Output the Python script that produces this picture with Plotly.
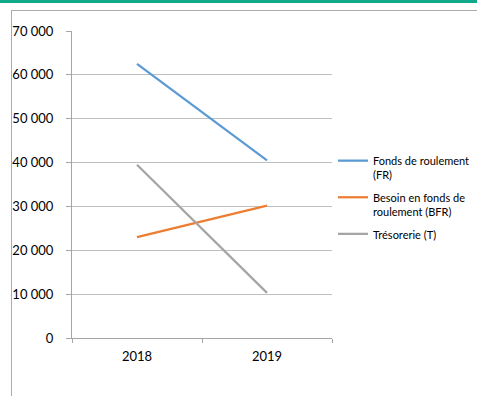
import plotly.graph_objects as go

years = ["2018", "2019"]
fr = [62500, 40500]
bfr = [23000, 30200]
treso = [39500, 10300]
names = ["Fonds de roulement<br>(FR)", "Besoin en fonds de<br>roulement (BFR)", "Trésorerie (T)"]
colors = ["#5B9BD5", "#ED7D31", "#A5A5A5"]
y_ticks = [0, 10000, 20000, 30000, 40000, 50000, 60000, 70000]

W, H = 477, 396
L, R, T, B = 72, 332, 31, 338

def px(x):
    return (x - L) / (R - L)

def py(y):
    return (B - y) / (B - T)

fig = go.Figure()
for i, (vals, name) in enumerate(zip([fr, bfr, treso], names)):
    fig.add_trace(go.Scatter(x=years, y=vals, mode="lines", name=name,
                             legendgroup=f"g{i}",
                             line=dict(color=colors[i], width=2.25)))

fig.update_layout(
    width=W, height=H,
    margin=dict(l=L, r=W - R, t=T, b=H - B, pad=0, autoexpand=False),
    paper_bgcolor="white", plot_bgcolor="white",
    separators=", ",
    font=dict(family="Lato, Open Sans, sans-serif", size=13, color="#000000"),
    showlegend=True,
    legend=dict(x=px(333), y=py(147), xanchor="left", yanchor="top",
                font=dict(size=11, color="#000000"), tracegroupgap=5,
                borderwidth=0, traceorder="grouped", valign="top",
                bgcolor="rgba(0,0,0,0)", itemwidth=30),
    xaxis=dict(type="category", range=[-0.5, 1.5], showgrid=False,
               showline=True, linecolor="#A6A6A6", linewidth=1,
               ticks="outside", tickson="boundaries", ticklen=4,
               tickcolor="#A6A6A6", zeroline=False, fixedrange=True,
               ticklabelstandoff=6),
    yaxis=dict(range=[0, 70000], tickvals=y_ticks, tickformat=",d",
               showgrid=True, gridcolor="#BFBFBF", gridwidth=1,
               showline=True, linecolor="#A6A6A6", linewidth=1,
               ticks="outside", ticklen=5, tickcolor="#A6A6A6",
               zeroline=False, fixedrange=True, ticklabelstandoff=10),
    shapes=[
        dict(type="rect", xref="paper", yref="paper", x0=px(-2), x1=px(W + 5),
             y0=py(3), y1=py(-2), fillcolor="#12A88A", line=dict(width=0), layer="above"),
        dict(type="rect", xref="paper", yref="paper", x0=px(11), x1=px(W + 5),
             y0=py(11), y1=py(10), fillcolor="#ABABAB", line=dict(width=0), layer="above"),
        dict(type="rect", xref="paper", yref="paper", x0=px(11), x1=px(12),
             y0=py(H + 5), y1=py(10), fillcolor="#ABABAB", line=dict(width=0), layer="above"),
    ],
)

fig.write_html("out.html", config={"displayModeBar": False})
